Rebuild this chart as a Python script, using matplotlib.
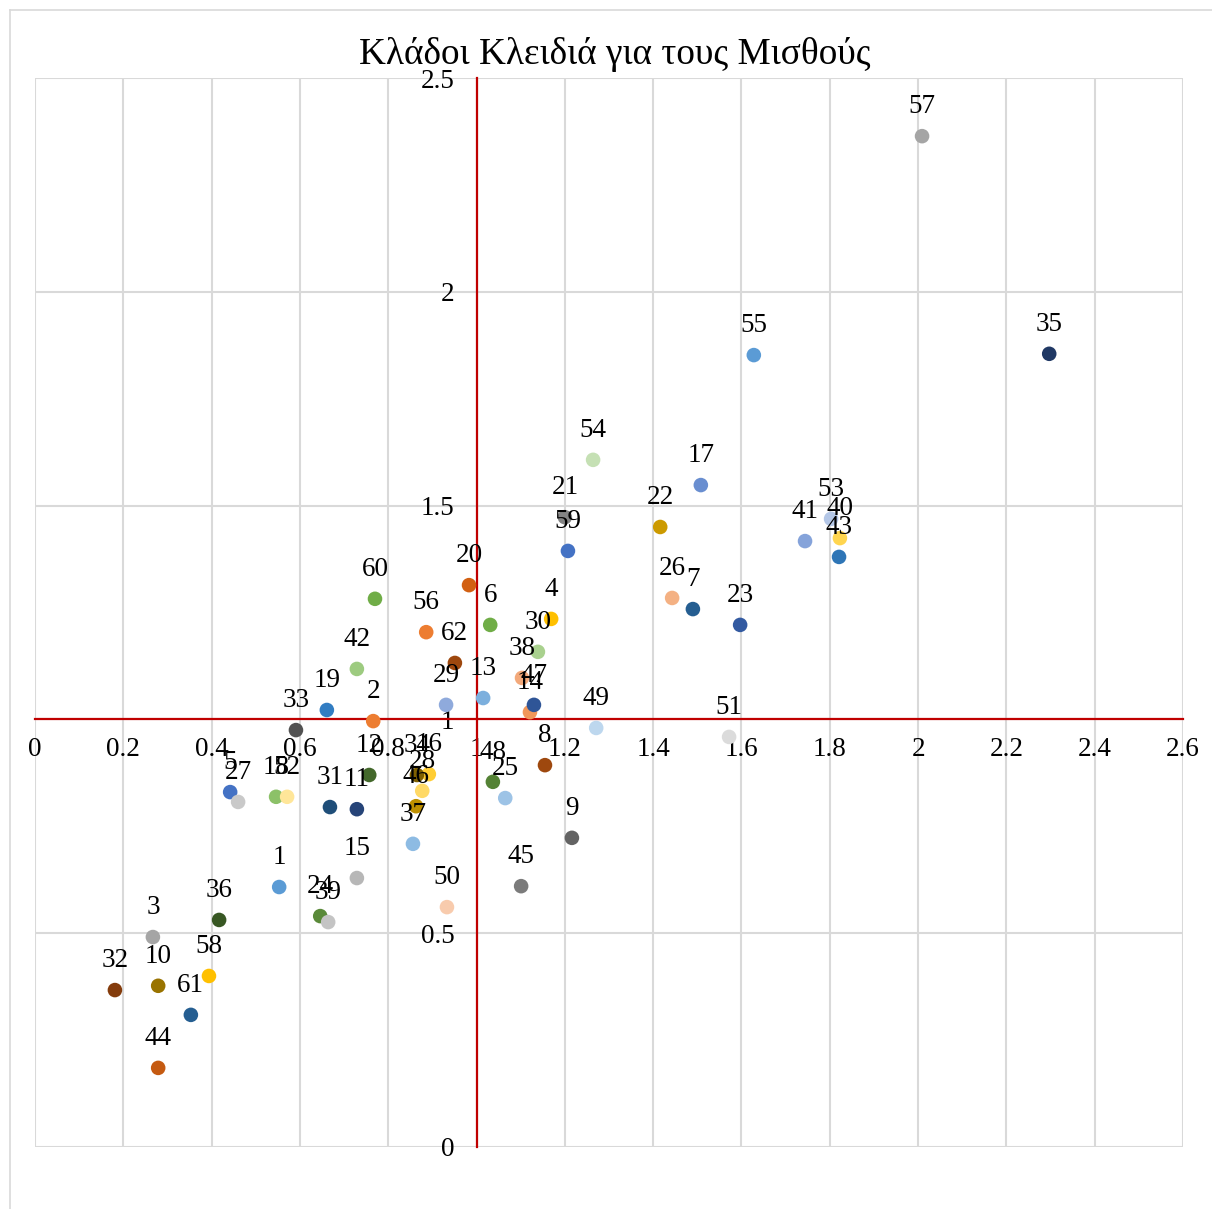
import matplotlib
matplotlib.use('Agg')
import matplotlib.pyplot as plt
from matplotlib.lines import Line2D

plt.rcParams['font.family'] = ['Liberation Serif', 'DejaVu Serif']

# Point labels (sector number) and their coordinates
labels = [1, 2, 3, 4, 5, 6, 7, 8, 9, 10, 11, 12, 13, 14, 15, 16, 17, 18, 19, 20,
          21, 22, 23, 24, 25, 26, 27, 28, 29, 30, 31, 32, 33, 34, 35, 36, 37, 38, 39, 40,
          41, 42, 43, 44, 45, 46, 47, 48, 49, 50, 51, 52, 53, 54, 55, 56, 57, 58, 59, 60,
          61, 62]
x_vals = [0.553, 0.766, 0.267, 1.169, 0.442, 1.031, 1.490, 1.155, 1.216, 0.279,
          0.729, 0.757, 1.015, 1.121, 0.729, 0.892, 1.508, 0.546, 0.661, 0.983,
          1.200, 1.416, 1.597, 0.646, 1.065, 1.443, 0.460, 0.877, 0.931, 1.139,
          0.668, 0.181, 0.591, 0.865, 2.297, 0.417, 0.856, 1.103, 0.664, 1.823,
          1.744, 0.729, 1.821, 0.279, 1.101, 0.863, 1.130, 1.037, 1.271, 0.933,
          1.572, 0.571, 1.803, 1.264, 1.628, 0.886, 2.009, 0.394, 1.207, 0.770,
          0.353, 0.951]
y_vals = [0.608, 0.996, 0.491, 1.235, 0.830, 1.221, 1.258, 0.893, 0.723, 0.377,
          0.790, 0.870, 1.050, 1.017, 0.629, 0.872, 1.548, 0.819, 1.022, 1.314,
          1.473, 1.450, 1.221, 0.540, 0.816, 1.284, 0.807, 0.833, 1.034, 1.158,
          0.795, 0.367, 0.975, 0.870, 1.855, 0.531, 0.709, 1.097, 0.526, 1.424,
          1.417, 1.118, 1.380, 0.185, 0.610, 0.797, 1.034, 0.854, 0.980, 0.561,
          0.959, 0.819, 1.469, 1.607, 1.852, 1.204, 2.364, 0.400, 1.394, 1.282,
          0.309, 1.132]

x_ticks = [0, 0.2, 0.4, 0.6, 0.8, 1, 1.2, 1.4, 1.6, 1.8, 2, 2.2, 2.4, 2.6]
y_ticks = [0, 0.5, 1, 1.5, 2, 2.5]

# Office-style series colour cycle
palette = [
    '#5B9BD5', '#ED7D31', '#A5A5A5', '#FFC000', '#4472C4', '#70AD47',
    '#255E91', '#9E480E', '#636363', '#997300', '#264478', '#43682B',
    '#7CAFDD', '#F1975A', '#B7B7B7', '#FFCD33', '#698ED0', '#8CC168',
    '#327DC2', '#D26012', '#848484', '#CC9A00', '#335AA1', '#5A8A39',
    '#9DC3E6', '#F4B183', '#C9C9C9', '#FFD966', '#8FAADC', '#A9D18E',
    '#1F4E79', '#843C0C', '#525252', '#7F6000', '#203864', '#385723',
    '#8DBBE3', '#F3A97A', '#C4C4C4', '#FFD54F', '#85A3DA', '#9DCB80',
    '#2E75B6', '#C55A11', '#7B7B7B', '#BF9000', '#2F5597', '#548235',
    '#BDD7EE', '#F8CBAD', '#DBDBDB', '#FFE699', '#B4C7E7', '#C5E0B4',
    '#5B9BD5', '#ED7D31', '#A5A5A5', '#FFC000', '#4472C4', '#70AD47',
    '#255E91', '#9E480E',
]

fig = plt.figure(figsize=(12.12, 12.09), dpi=100)
ax = fig.add_axes([35 / 1212, 1 - 1147 / 1209, 1148 / 1212, 1069 / 1209])

ax.set_xlim(0, 2.6)
ax.set_ylim(0, 2.5)
ax.set_xticks(x_ticks)
ax.set_yticks(y_ticks)
ax.set_xticklabels([f'{v:g}' for v in x_ticks])
ax.set_yticklabels([f'{v:g}' for v in y_ticks])
ax.grid(True, color='#D9D9D9', linewidth=1.5, zorder=0)
ax.set_axisbelow(True)

# axes cross at (1, 1)
ax.spines['left'].set_position(('data', 1))
ax.spines['bottom'].set_position(('data', 1))
for s in ['left', 'bottom']:
    ax.spines[s].set_color('#C00000')
    ax.spines[s].set_linewidth(1.6)
    ax.spines[s].set_zorder(2)
ax.spines['top'].set_visible(False)
ax.spines['right'].set_visible(False)
ax.tick_params(axis='x', length=0, pad=13, labelsize=19.5)
ax.tick_params(axis='y', length=0, pad=16, labelsize=19.5)

ax.scatter(x_vals, y_vals, s=110, c=palette[:len(x_vals)], linewidths=0, zorder=3)
for lab, xv, yv in zip(labels, x_vals, y_vals):
    ax.annotate(str(lab), (xv, yv), xytext=(0, 23), textcoords='offset pixels',
                ha='center', va='baseline', fontsize=19.5, zorder=4)

fig.text(0.507, 1 - 54 / 1209, 'Κλάδοι Κλειδιά για τους Μισθούς',
         ha='center', va='center', fontsize=26.8)

# chart area border
fig.add_artist(Line2D([10 / 1212, 1], [1 - 10 / 1209, 1 - 10 / 1209],
                      color='#D9D9D9', linewidth=1.2, transform=fig.transFigure))
fig.add_artist(Line2D([10 / 1212, 10 / 1212], [0, 1 - 10 / 1209],
                      color='#D9D9D9', linewidth=1.2, transform=fig.transFigure))

fig.savefig('out.png', dpi=100)
